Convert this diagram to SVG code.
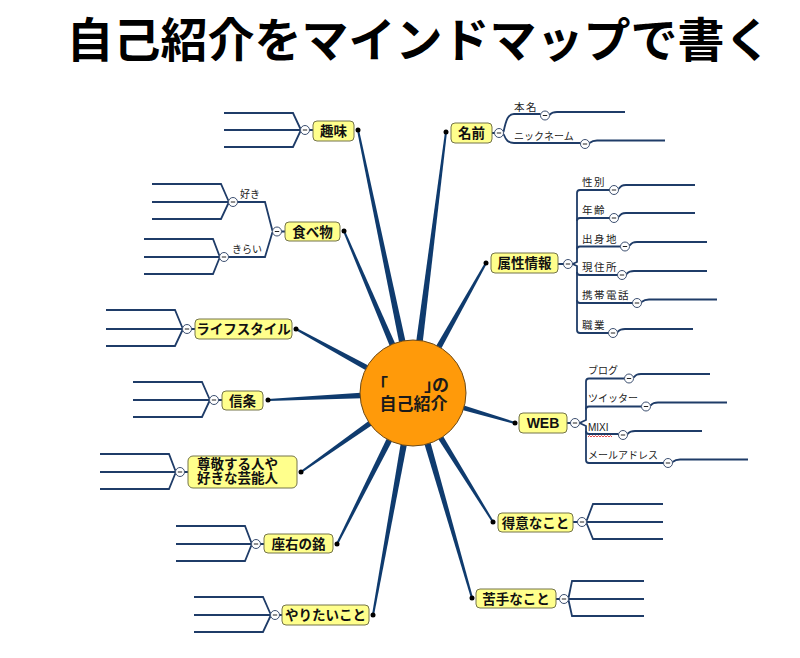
<svg xmlns="http://www.w3.org/2000/svg" width="800" height="658" viewBox="0 0 800 658">
<style>
.sp{fill:#0f3b6e}
.ln{fill:none;stroke:#1f3c68;stroke-width:1.8}
.box{fill:#ffff8c;stroke:#74744a;stroke-width:1}
.nt{font-family:"Liberation Sans","Noto Sans CJK JP",sans-serif;font-size:13.5px;font-weight:bold;fill:#111;text-anchor:middle}
.st{font-family:"Liberation Sans","Noto Sans CJK JP",sans-serif;font-size:10px;fill:#222}
.sw{letter-spacing:1.5px;font-size:10.5px}
.dot{fill:#000}
.ttl{font-family:"Noto Sans CJK JP",sans-serif;font-size:47px;font-weight:bold;fill:#000;text-anchor:middle}
.ct{font-family:"Liberation Sans","Noto Sans CJK JP",sans-serif;font-size:17px;font-weight:bold;fill:#1a1a1a}
</style>
<defs>
<g id="cb"><circle r="4.5" fill="#fff" stroke="#3c4f70" stroke-width="1"/><line x1="-2.2" x2="2.2" y1="0" y2="0" stroke="#222" stroke-width="1"/></g>
</defs>
<rect width="800" height="658" fill="#fff"/>
<text class="ttl" x="419" y="57">自己紹介をマインドマップで書く</text>

<g id="connectors">
<path class="sp" d="M357,130.2 L359,129.8 L416.7,392.2 L409.3,393.8Z"/>
<path class="sp" d="M343.1,231.4 L344.9,230.6 L416.5,391.5 L409.5,394.5Z"/>
<path class="sp" d="M295.5,329.9 L296.5,328.1 L414.8,389.7 L411.2,396.3Z"/>
<path class="sp" d="M268,401 L268,399 L412.8,389.2 L413.2,396.8Z"/>
<path class="sp" d="M301.6,472.8 L300.4,471.2 L410.8,389.9 L415.2,396.1Z"/>
<path class="sp" d="M337.9,544.4 L336.1,543.6 L409.6,391.3 L416.4,394.7Z"/>
<path class="sp" d="M374,615.2 L372,614.8 L409.3,392.3 L416.7,393.7Z"/>
<path class="sp" d="M473,597.7 L471,598.3 L409.3,394.1 L416.7,392Z"/>
<path class="sp" d="M493.8,521.5 L492.2,522.5 L409.8,395 L416.2,391Z"/>
<path class="sp" d="M515.3,422 L514.7,424 L411.9,396.6 L414.1,389.4Z"/>
<path class="sp" d="M485.1,262.5 L486.9,263.5 L416.3,394.9 L409.7,391.1Z"/>
<path class="sp" d="M445,131.9 L447,132.1 L416.8,393.5 L409.2,392.5Z"/>

<path class="ln" d="M309.5,130 H313 M492,133 H494.5 M281.5,231.5 H285 M558,264 H563.5 M191.5,329 H195 M218.5,400 H222 M567,423 H570.5 M184.5,472 H188 M573,522 H577.5 M260.5,544 H264 M556,599 H559.5 M279.5,615 H282"/>

<path class="ln" d="M224,113 H293 L300.5,129 M224,130 H300.5 M224,147 H293 L300.5,131"/>
<path class="ln" d="M106,310 H175 L182.5,328 M106,329 H182.5 M106,346 H175 L182.5,330"/>
<path class="ln" d="M133,382 H202 L209.5,399 M133,400 H209.5 M133,417 H202 L209.5,401"/>
<path class="ln" d="M100,454 H169 L175.5,471 M100,472 H175.5 M100,489 H169 L175.5,473"/>
<path class="ln" d="M176,526 H245 L251.5,543 M176,544 H251.5 M176,561 H245 L251.5,545"/>
<path class="ln" d="M194,597 H263 L270.5,614 M194,615 H270.5 M194,632 H263 L270.5,616"/>
<path class="ln" d="M272.5,231 L265,202 H237.5 M272.5,232 L265,257 H228.5"/>
<path class="ln" d="M152,184 H221 L228.5,201 M152,202 H228.5 M152,219 H221 L228.5,203"/>
<path class="ln" d="M144,239 H213 L219.5,256 M144,257 H219.5 M144,274 H213 L219.5,258"/>
<path class="ln" d="M586.5,521 L593,504 H663 M586.5,522 H663 M586.5,523 L593,539 H663"/>
<path class="ln" d="M568.5,598 L572,581 H644 M568.5,599 H644 M568.5,600 L572,616 H644"/>

<path class="ln" d="M503.5,132 C506,120 508,114 514,114 H540.5"/>
<path class="ln" d="M549.5,115 C552,112.5 553,112 557,112 H625"/>
<path class="ln" d="M503.5,134 C506,140 508,143 514,143 H580.5"/>
<path class="ln" d="M589.5,143 C592,141 593,140.5 597,140.5 H665"/>

<path class="ln" d="M572.5,264 L577,262 V193 Q577,190 580,190 H609.5"/>
<path class="ln" d="M577,221 Q577,218 580,218 H609.5"/>
<path class="ln" d="M577,249.5 Q577,246.5 580,246.5 H620.5"/>
<path class="ln" d="M572.5,264 L577,266 V330 Q577,333 580,333 H608.5"/>
<path class="ln" d="M577,272 Q577,275 580,275 H617.5"/>
<path class="ln" d="M577,300 Q577,303 580,303 H632.5"/>
<path class="ln" d="M618.5,189 C621,186 622,185 626,185 H695"/>
<path class="ln" d="M618.5,217 C621,214 622,213 626,213 H695"/>
<path class="ln" d="M629.5,245.5 C632,243 633,242 637,242 H707"/>
<path class="ln" d="M626.5,274 C629,271.5 630,271 634,271 H707"/>
<path class="ln" d="M641.5,302 C644,300 645,299.5 649,299.5 H717"/>
<path class="ln" d="M617.5,332 C620,329.5 621,329 625,329 H693"/>

<path class="ln" d="M579.5,423 L586,420 V381.5 Q586,378.5 589,378.5 H624.5"/>
<path class="ln" d="M586,409.5 Q586,406.5 589,406.5 H641.5"/>
<path class="ln" d="M579.5,423 L586,426 V460 Q586,463 589,463 H663.5"/>
<path class="ln" d="M586,431 Q586,434 589,434 H618.5"/>
<path class="ln" d="M633.5,377.5 C636,375 637,374 641,374 H710"/>
<path class="ln" d="M650.5,405.5 C653,403 654,402.5 658,402.5 H727"/>
<path class="ln" d="M627.5,434 C630,431.5 631,431 635,431 H702"/>
<path class="ln" d="M672.5,462 C675,460 676,459.5 680,459.5 H748"/>
</g>

<g id="center">
<circle cx="413" cy="393" r="53" fill="#ff9a0a" stroke="#6b4a1a" stroke-width="1"/>
<text class="ct" x="371 388 405 424 432" y="391">「　　」の</text>
<text class="ct" x="413.5" y="410" text-anchor="middle">自己紹介</text>
</g>

<g id="node-shumi">
<rect class="box" x="313" y="121" width="41" height="20" rx="4"/>
<text class="nt" x="333.5" y="136">趣味</text>
<circle class="dot" cx="358" cy="130" r="2.5"/>
<use href="#cb" x="305" y="130"/>
</g>
<g id="node-namae">
<rect class="box" x="451" y="123" width="41" height="20" rx="4"/>
<text class="nt" x="471.5" y="138">名前</text>
<circle class="dot" cx="446" cy="132" r="2.5"/>
<use href="#cb" x="499" y="133"/>
</g>
<g id="node-tabemono">
<rect class="box" x="285" y="222" width="55" height="19" rx="4"/>
<text class="nt" x="312.5" y="236.5">食べ物</text>
<circle class="dot" cx="344" cy="231" r="2.5"/>
<use href="#cb" x="277" y="231.5"/>
</g>
<g id="node-zokusei">
<rect class="box" x="491" y="253" width="67" height="20" rx="4"/>
<text class="nt" x="524.5" y="268">属性情報</text>
<circle class="dot" cx="486" cy="263" r="2.5"/>
<use href="#cb" x="568" y="264"/>
</g>
<g id="node-lifestyle">
<rect class="box" x="195" y="319" width="97" height="20" rx="4"/>
<text class="nt" x="243.5" y="334">ライフスタイル</text>
<circle class="dot" cx="296" cy="329" r="2.5"/>
<use href="#cb" x="187" y="329"/>
</g>
<g id="node-shinjo">
<rect class="box" x="222" y="391" width="41" height="19" rx="4"/>
<text class="nt" x="242.5" y="405.5">信条</text>
<circle class="dot" cx="268" cy="400" r="2.5"/>
<use href="#cb" x="214" y="400"/>
</g>
<g id="node-web">
<rect class="box" x="519" y="413" width="48" height="20" rx="4"/>
<text class="nt" x="543" y="428" style="font-size:14px">WEB</text>
<circle class="dot" cx="515" cy="423" r="2.5"/>
<use href="#cb" x="575" y="423"/>
</g>
<g id="node-sonkei">
<rect class="box" x="188" y="456" width="109" height="32" rx="5"/>
<text class="nt" x="197" y="469" style="text-anchor:start">尊敬する人や</text>
<text class="nt" x="197" y="483" style="text-anchor:start">好きな芸能人</text>
<circle class="dot" cx="301" cy="472" r="2.5"/>
<use href="#cb" x="180" y="472"/>
</g>
<g id="node-tokui">
<rect class="box" x="498" y="513" width="75" height="19" rx="4"/>
<text class="nt" x="535.5" y="527.5">得意なこと</text>
<circle class="dot" cx="493" cy="522" r="2.5"/>
<use href="#cb" x="582" y="522"/>
</g>
<g id="node-zayu">
<rect class="box" x="264" y="534" width="69" height="19" rx="4"/>
<text class="nt" x="298.5" y="548.5">座右の銘</text>
<circle class="dot" cx="337" cy="544" r="2.5"/>
<use href="#cb" x="256" y="544"/>
</g>
<g id="node-nigate">
<rect class="box" x="476" y="589" width="80" height="19" rx="4"/>
<text class="nt" x="516" y="603.5">苦手なこと</text>
<circle class="dot" cx="472" cy="598" r="2.5"/>
<use href="#cb" x="564" y="599"/>
</g>
<g id="node-yaritai">
<rect class="box" x="282" y="605" width="87" height="20" rx="4"/>
<text class="nt" x="325.5" y="620">やりたいこと</text>
<circle class="dot" cx="373" cy="615" r="2.5"/>
<use href="#cb" x="275" y="615"/>
</g>

<g id="sub-suki"><text class="st" x="240" y="198">好き</text><use href="#cb" x="233" y="202"/></g>
<g id="sub-kirai"><text class="st" x="232" y="253">きらい</text><use href="#cb" x="224" y="257"/></g>
<g id="sub-honmyo"><text class="st sw" x="514" y="110.5">本名</text><use href="#cb" x="545" y="115.5"/></g>
<g id="sub-nickname"><text class="st" x="514" y="139.5">ニックネーム</text><use href="#cb" x="585" y="144"/></g>
<g id="sub-seibetsu"><text class="st sw" x="582" y="186">性別</text><use href="#cb" x="614" y="190"/></g>
<g id="sub-nenrei"><text class="st sw" x="582" y="214">年齢</text><use href="#cb" x="614" y="218"/></g>
<g id="sub-shusshin"><text class="st sw" x="582" y="242.5">出身地</text><use href="#cb" x="625" y="246.5"/></g>
<g id="sub-genjusho"><text class="st sw" x="582" y="271">現住所</text><use href="#cb" x="622" y="275"/></g>
<g id="sub-keitai"><text class="st sw" x="582" y="299">携帯電話</text><use href="#cb" x="637" y="303"/></g>
<g id="sub-shokugyo"><text class="st sw" x="582" y="329">職業</text><use href="#cb" x="613" y="333"/></g>
<g id="sub-blog"><text class="st" x="588" y="374">ブログ</text><use href="#cb" x="629" y="378.5"/></g>
<g id="sub-twitter"><text class="st" x="588" y="402">ツイッター</text><use href="#cb" x="646" y="406.5"/></g>
<g id="sub-mixi"><text class="st" x="588" y="431">MIXI</text>
<path d="M588,437 l1.5,-1.5 1.5,1.5 1.5,-1.5 1.5,1.5 1.5,-1.5 1.5,1.5 1.5,-1.5 1.5,1.5 1.5,-1.5 1.5,1.5 1.5,-1.5 1.5,1.5 1.5,-1.5 1.5,1.5 1.5,-1.5 1.5,1.5" fill="none" stroke="#e02020" stroke-width="0.8"/>
<use href="#cb" x="623" y="435"/></g>
<g id="sub-mail"><text class="st" x="588" y="459">メールアドレス</text><use href="#cb" x="668" y="463"/></g>
</svg>
